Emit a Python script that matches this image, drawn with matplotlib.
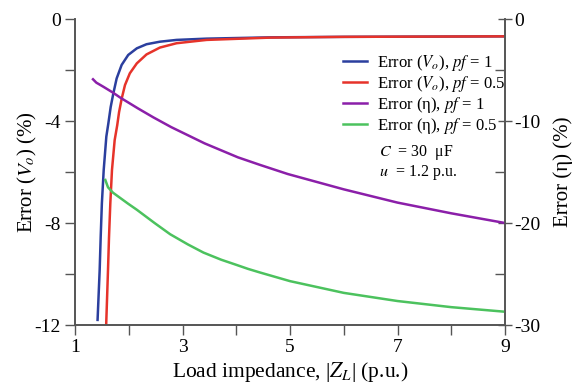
import matplotlib
matplotlib.use("Agg")
import matplotlib.pyplot as plt

plt.rcParams["font.family"] = ["Liberation Serif", "DejaVu Serif"]
plt.rcParams["mathtext.fontset"] = "stix"

# Error (Vo), pf = 1  (left axis, %)
vo_pf1_x = [1.42, 1.459, 1.478, 1.50, 1.534, 1.583, 1.62, 1.664, 1.713, 1.775, 1.868, 1.99,
            2.15, 2.33, 2.58, 2.89, 3.45, 4.63, 6.0, 7.5, 9.0]
vo_pf1_y = [-11.8, -9.84, -8.54, -7.23, -5.92, -4.61, -4.1, -3.45, -2.92, -2.33, -1.80, -1.41,
            -1.15, -0.99, -0.89, -0.82, -0.77, -0.72, -0.70, -0.69, -0.68]

# Error (Vo), pf = 0.5  (left axis, %)
vo_pf05_x = [1.58, 1.614, 1.633, 1.657, 1.688, 1.738, 1.786, 1.82, 1.87, 1.93, 2.02, 2.15,
             2.33, 2.58, 2.89, 3.45, 4.63, 6.0, 7.5, 9.0]
vo_pf05_y = [-12.0, -9.84, -8.54, -7.23, -5.92, -4.75, -4.16, -3.65, -3.11, -2.59, -2.13, -1.74,
             -1.39, -1.12, -0.95, -0.82, -0.73, -0.70, -0.69, -0.68]

# Error (eta), pf = 1  (right axis, %)
eta_pf1_x = [1.335, 1.397, 1.53, 1.707, 1.84, 2.17, 2.46, 2.79, 3.41, 4.03, 4.44, 4.96,
             6.0, 7.0, 8.0, 9.0]
eta_pf1_y = [-5.91, -6.24, -6.65, -7.22, -7.7, -8.76, -9.65, -10.6, -12.19, -13.56, -14.3, -15.2,
             -16.7, -18.0, -19.05, -20.0]

# Error (eta), pf = 0.5  (right axis, %)
eta_pf05_x = [1.564, 1.614, 1.707, 1.986, 2.15, 2.48, 2.77, 3.10, 3.39, 3.72, 4.0, 4.22,
              4.44, 5.0, 6.0, 7.0, 8.0, 9.0]
eta_pf05_y = [-15.78, -16.5, -17.03, -18.1, -18.7, -20.0, -21.1, -22.1, -22.9, -23.6, -24.1, -24.5,
              -24.85, -25.7, -26.85, -27.65, -28.25, -28.7]

blue = "#2b3f9e"
red = "#e6332a"
purple = "#8b1fa9"
green = "#4cc25e"
spine_col = "#555555"

fig = plt.figure(figsize=(5.77, 3.87), dpi=100)
ax = fig.add_axes([75 / 577, 1 - 325 / 387, 430 / 577, 306 / 387])
ax2 = ax.twinx()

l1, = ax.plot(vo_pf1_x, vo_pf1_y, color=blue, lw=1.8)
l2, = ax.plot(vo_pf05_x, vo_pf05_y, color=red, lw=1.8)
l3, = ax2.plot(eta_pf1_x, eta_pf1_y, color=purple, lw=1.8)
l4, = ax2.plot(eta_pf05_x, eta_pf05_y, color=green, lw=1.8)

ax.set_xlim(1, 9)
ax.set_ylim(-12, 0)
ax2.set_ylim(-30, 0)

ax.set_xticks([1, 3, 5, 7, 9])
ax.set_xticks([2, 4, 6, 8], minor=True)
ax.set_yticks([0, -4, -8, -12])
ax.set_yticklabels(["0", "-4", "-8", "-12"])
ax.set_yticks([-2, -6, -10], minor=True)
ax2.set_yticks([0, -10, -20, -30])
ax2.set_yticklabels(["0", "-10", "-20", "-30"])
ax2.set_yticks([-5, -15, -25], minor=True)

for a in (ax, ax2):
    a.spines["top"].set_visible(False)
    for s in a.spines.values():
        s.set_color(spine_col)
        s.set_linewidth(1.2)

ax.tick_params(axis="both", which="both", direction="out", length=7, width=1,
               color=spine_col, labelsize=14, pad=3)
ax2.tick_params(axis="y", which="major", direction="inout", length=10, width=1,
                color=spine_col, labelsize=14, pad=1.5)
ax2.tick_params(axis="y", which="minor", direction="in", length=7, width=1,
                color=spine_col)

ax.set_xlabel(r"Load impedance, |$Z_L$| (p.u.)", fontsize=15.5, labelpad=3)
ax.set_ylabel(r"Error ($V_o$) (%)", fontsize=15, labelpad=-3)
ax2.set_ylabel("Error (η) (%)", fontsize=15, labelpad=9)

ax2.legend([l1, l2, l3, l4],
           [r"Error ($V_o$), $pf$ = 1", r"Error ($V_o$), $pf$ = 0.5",
            r"Error (η), $pf$ = 1", r"Error (η), $pf$ = 0.5"],
           loc="upper left", bbox_to_anchor=((343 - 75) / 430, 1 - (53 - 19) / 306),
           frameon=False, fontsize=12, handlelength=1.45, handletextpad=0.6,
           labelspacing=0.05, borderaxespad=0, borderpad=0)

ax2.text((379 - 75) / 430, 1 - (153 - 19) / 306, r"$C$  = 30  μF",
         transform=ax2.transAxes, fontsize=11.5, va="center", ha="left")
ax2.text((379 - 75) / 430, 1 - (173 - 19) / 306, r"$u$  = 1.2 p.u.",
         transform=ax2.transAxes, fontsize=11.5, va="center", ha="left")

fig.savefig("out.png", dpi=100)
